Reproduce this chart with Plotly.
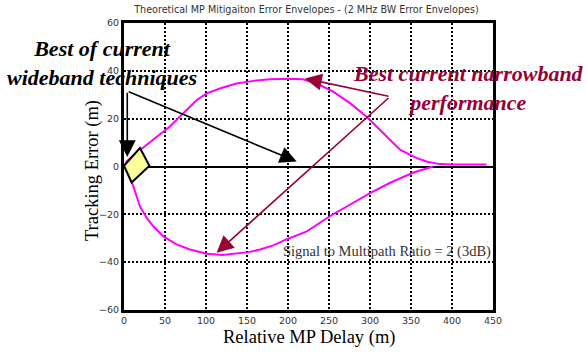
import plotly.graph_objects as go

# Upper error envelope
upper_x = [0, 3, 11, 19.5, 27, 35.7, 45, 56, 64, 72, 80, 88.7, 101, 117, 137, 158, 178, 200, 218, 235, 255, 276, 296, 316, 337, 357, 370, 385, 400, 442]
upper_y = [0, 2, 4.5, 6.9, 9, 11.1, 13.8, 16.7, 19.5, 22.2, 25, 27.8, 30.6, 32.6, 34.7, 35.8, 36.5, 36.7, 36.5, 34.7, 31.3, 26.4, 20.8, 13.9, 6.9, 3.5, 2, 1, 0.8, 0.8]

# Lower error envelope
lower_x = [0, 3, 11.4, 19.5, 27.7, 35.7, 48, 64, 80.5, 101, 120, 137, 152, 166, 182, 198, 223, 251, 276, 300, 324, 353, 377]
lower_y = [0, -1, -8.3, -16.7, -21.5, -25, -29.2, -32.6, -34.7, -36.5, -37, -36.5, -35.8, -34.7, -33, -30.5, -27.1, -20.8, -16, -11.1, -6.9, -2.5, 0]

x_ticks = [0, 50, 100, 150, 200, 250, 300, 350, 400, 450]
y_ticks = [-60, -40, -20, 0, 20, 40, 60]

# Wideband region marker (diamond) vertices
diamond_x = [0, 19.5, 31, 9.3]
diamond_y = [0.3, 7.7, 0.3, -6.7]

# Arrow endpoints: (tail, head)
black_tail = (4, 31.5)
black_heads = [(4, 4), (210.6, 2.1)]
red_tail = (324.4, 29.2)
red_heads = [(220.7, 36.8), (113, -36.1)]

MAGENTA = "#FF00FF"
RED = "#990033"
SERIF = "Liberation Serif, Times New Roman, serif"
SANS = "DejaVu Sans, sans-serif"

fig = go.Figure()
fig.add_trace(go.Scatter(x=upper_x, y=upper_y, mode="lines",
                         line=dict(color=MAGENTA, width=2), showlegend=False, hoverinfo="skip"))
fig.add_trace(go.Scatter(x=lower_x, y=lower_y, mode="lines",
                         line=dict(color=MAGENTA, width=2), showlegend=False, hoverinfo="skip"))

path = "M " + " L ".join(f"{x},{y}" for x, y in zip(diamond_x, diamond_y)) + " Z"
fig.add_shape(type="path", path=path, xref="x", yref="y",
              fillcolor="#FFFF99", line=dict(color="black", width=2), layer="above")

ann = []
for hx, hy in black_heads:
    ann.append(dict(x=hx, y=hy, ax=black_tail[0], ay=black_tail[1], xref="x", yref="y",
                    axref="x", ayref="y", text="", showarrow=True, arrowhead=2,
                    arrowsize=2.1, arrowwidth=1.6, arrowcolor="black"))
for hx, hy in red_heads:
    ann.append(dict(x=hx, y=hy, ax=red_tail[0], ay=red_tail[1], xref="x", yref="y",
                    axref="x", ayref="y", text="", showarrow=True, arrowhead=2,
                    arrowsize=2.1, arrowwidth=1.6, arrowcolor=RED))

ann.append(dict(x=-0.0596, y=0.859, xref="paper", yref="paper", showarrow=False,
                text="<b><i>Best of current<br>wideband techniques</i></b>",
                font=dict(family=SERIF, size=22, color="black"),
                xanchor="center", yanchor="middle", align="center"))
ann.append(dict(x=420.7, y=33, xref="x", yref="y", showarrow=False,
                text="<b><i>Best current narrowband<br>performance</i></b>",
                font=dict(family=SERIF, size=22, color=RED),
                xanchor="center", yanchor="middle", align="center"))
ann.append(dict(x=450, y=-35.5, xref="x", yref="y", showarrow=False,
                text="Signal to Multipath Ratio = 2 (3dB)",
                font=dict(family=SERIF, size=14.5, color="#333333"),
                xanchor="right", yanchor="middle"))
ann.append(dict(x=0.501, y=-0.0975, xref="paper", yref="paper", showarrow=False,
                text="Relative MP Delay (m)",
                font=dict(family=SERIF, size=18.5, color="black"),
                xanchor="center", yanchor="middle"))
ann.append(dict(x=-0.0867, y=0.484, xref="paper", yref="paper", showarrow=False,
                text="Tracking Error (m)", textangle=-90,
                font=dict(family=SERIF, size=18.5, color="black"),
                xanchor="center", yanchor="middle"))

fig.update_layout(
    width=587, height=353,
    margin=dict(l=124, r=94, t=23, b=43),
    paper_bgcolor="white", plot_bgcolor="white",
    title=dict(text="Theoretical MP Mitigaiton Error Envelopes - (2 MHz BW Error Envelopes)",
               x=0.522, xanchor="center", y=1 - 10 / 353, yanchor="middle",
               font=dict(family=SANS, size=9.6, color="#333333")),
    annotations=ann,
    showlegend=False,
)
fig.update_xaxes(range=[0, 450], tickvals=x_ticks, showgrid=True, gridcolor="black",
                 gridwidth=2, griddash="2px,2px", showline=True, mirror=True,
                 linecolor="black", linewidth=3, zeroline=False, ticks="",
                 tickfont=dict(family=SANS, size=9.5, color="#333333"))
fig.update_yaxes(range=[-60, 60], tickvals=y_ticks, showgrid=True, gridcolor="black",
                 gridwidth=2, griddash="2px,2px", showline=True, mirror=True,
                 linecolor="black", linewidth=3, zeroline=True, zerolinecolor="black",
                 zerolinewidth=2, ticks="",
                 tickfont=dict(family=SANS, size=9.5, color="#333333"))

fig.write_html("out.html")
